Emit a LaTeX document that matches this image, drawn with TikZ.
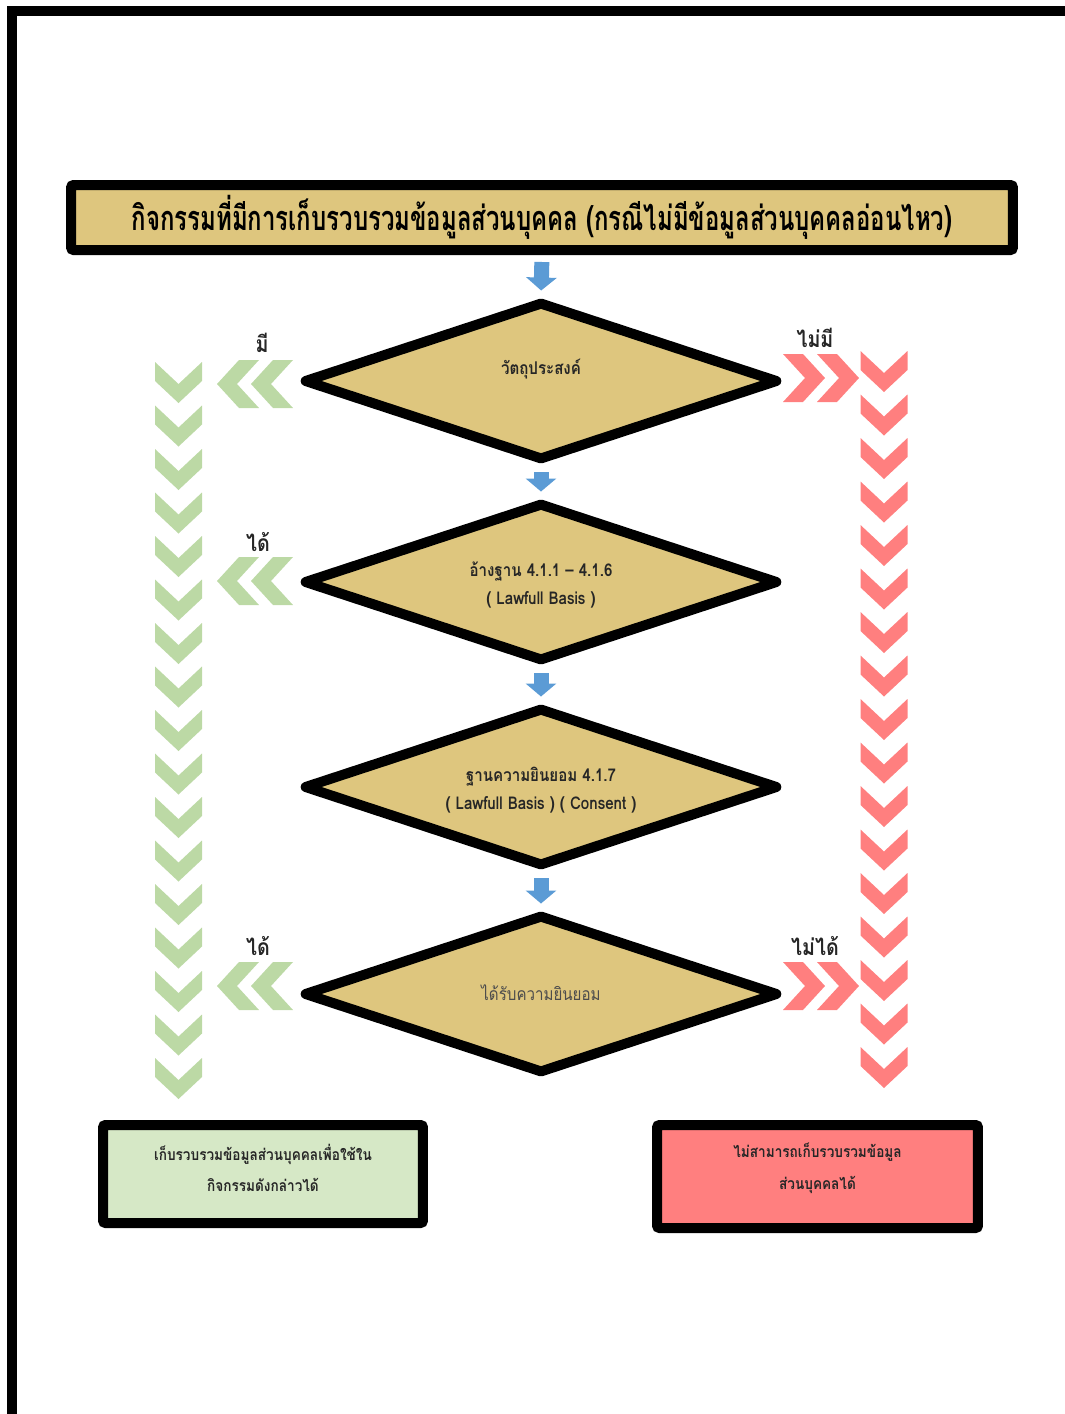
\documentclass[tikz,border=0pt]{standalone}
\usepackage{fontspec}
\newfontfamily\thaifont[Script=Thai,FakeStretch=0.86]{Loma}
\newfontfamily\thainarrow[Script=Thai,FakeStretch=0.7]{Loma}
\usetikzlibrary{shapes.geometric,arrows.meta}

\definecolor{boxtan}{RGB}{222,198,126}
\definecolor{chevgreen}{RGB}{188,217,165}
\definecolor{boxgreen}{RGB}{214,232,198}
\definecolor{chevred}{RGB}{255,127,127}
\definecolor{arrowblue}{RGB}{91,155,213}

\tikzset{
  framebox/.style={draw, line width=0.2cm, inner sep=0pt, rounded corners=0.05cm},
  decision/.style={draw, shape=diamond, line width=0.2cm, line join=round, fill=boxtan,
    inner sep=0pt, minimum width=9.5cm, minimum height=3.18cm},
  dtext/.style={font=\thaifont\bfseries\fontsize{10}{12}\selectfont, align=center, text=black!85},
  answer/.style={font=\thaifont\bfseries\fontsize{13}{15}\selectfont, text=black!85},
  flowdown/.style={draw=arrowblue, line width=0.3cm, -{Triangle[width=0.6cm,length=0.26cm]},
    shorten <=0.14cm, shorten >=0.12cm},
  chevdown/.pic={\path[pic actions] (-23.5,0) -- (0,22) -- (23.5,0) -- (23.5,19) -- (0,41) -- (-23.5,19) -- cycle;},
  chevleft/.pic={\path[pic actions] (0,0) -- (22,-24) -- (42,-24) -- (20,0) -- (42,24) -- (22,24) -- cycle;},
  chevright/.pic={\path[pic actions] (0,0) -- (-22,-24) -- (-42,-24) -- (-20,0) -- (-42,24) -- (-22,24) -- cycle;}
}

\begin{document}
\begin{tikzpicture}[x=0.02cm, y=-0.02cm]
  \useasboundingbox (0,0) rectangle (1065,1414);
  % page frame
  \draw[line width=0.2cm] (12,1420) -- (12,11) -- (1070,11);

  % title
  \node[framebox, fill=boxtan, minimum width=18.84cm, minimum height=1.3cm] (title) at (542,217.5) {};
  \node[font=\thainarrow\bfseries\fontsize{19.5}{24}\selectfont] (titletext) at (542,217)
    {กิจกรรมที่มีการเก็บรวบรวมข้อมูลส่วนบุคคล (กรณีไม่มีข้อมูลส่วนบุคคลอ่อนไหว)};

  % decisions
  \node[decision] (d1) at (541,381) {};
  \node[decision] (d2) at (541,582) {};
  \node[decision] (d3) at (541,787) {};
  \node[decision] (d4) at (541,994) {};
  \node[dtext] (d1text) at (541,369) {วัตถุประสงค์};
  \node[dtext] (d2text) at (541,585) {อ้างฐาน 4.1.1 – 4.1.6\\[4pt]( Lawfull Basis )};
  \node[dtext] (d3text) at (541,790) {ฐานความยินยอม 4.1.7\\[4pt]( Lawfull Basis ) ( Consent )};
  \node[dtext, font=\thaifont\fontsize{10}{12}\selectfont, text=black!70] (d4text) at (541,993) {ได้รับความยินยอม};

  % flow
  \draw[flowdown] (title.south) -- (d1.north);
  \draw[flowdown] (d1.south) -- (d2.north);
  \draw[flowdown] (d2.south) -- (d3.north);
  \draw[flowdown] (d3.south) -- (d4.north);

  % yes side
  \foreach \k in {0,...,16}
    \pic[fill=chevgreen] at (178.5,362+43.5*\k) {chevdown};
  \foreach \y in {384,581,986} {
    \pic[fill=chevgreen] at (217,\y) {chevleft};
    \pic[fill=chevgreen] at (251,\y) {chevleft};
  }
  \node[answer] (yes1) at (262,343) {มี};
  \node[answer] (yes2) at (258,542) {ได้};
  \node[answer] (yes4) at (258,946) {ได้};

  % no side
  \foreach \k in {0,...,16}
    \pic[fill=chevred] at (884,351+43.5*\k) {chevdown};
  \foreach \y in {378,986} {
    \pic[fill=chevred] at (825,\y) {chevright};
    \pic[fill=chevred] at (859,\y) {chevright};
  }
  \node[answer] (no1) at (815,338) {ไม่มี};
  \node[answer] (no4) at (815,946) {ไม่ได้};

  % results
  \node[framebox, fill=boxgreen, minimum width=6.4cm, minimum height=1.96cm] (okbox) at (263,1174) {};
  \node[dtext, font=\thaifont\bfseries\fontsize{9}{11}\selectfont] (oktext) at (263,1168)
    {เก็บรวบรวมข้อมูลส่วนบุคคลเพื่อใช้ใน\\[7pt]กิจกรรมดังกล่าวได้};
  \node[framebox, fill=chevred, minimum width=6.42cm, minimum height=2.06cm] (nobox) at (817.5,1176.5) {};
  \node[dtext, font=\thaifont\bfseries\fontsize{9}{11}\selectfont] (notext) at (817.5,1168)
    {ไม่สามารถเก็บรวบรวมข้อมูล\\[7pt]ส่วนบุคคลได้};
\end{tikzpicture}
\end{document}
